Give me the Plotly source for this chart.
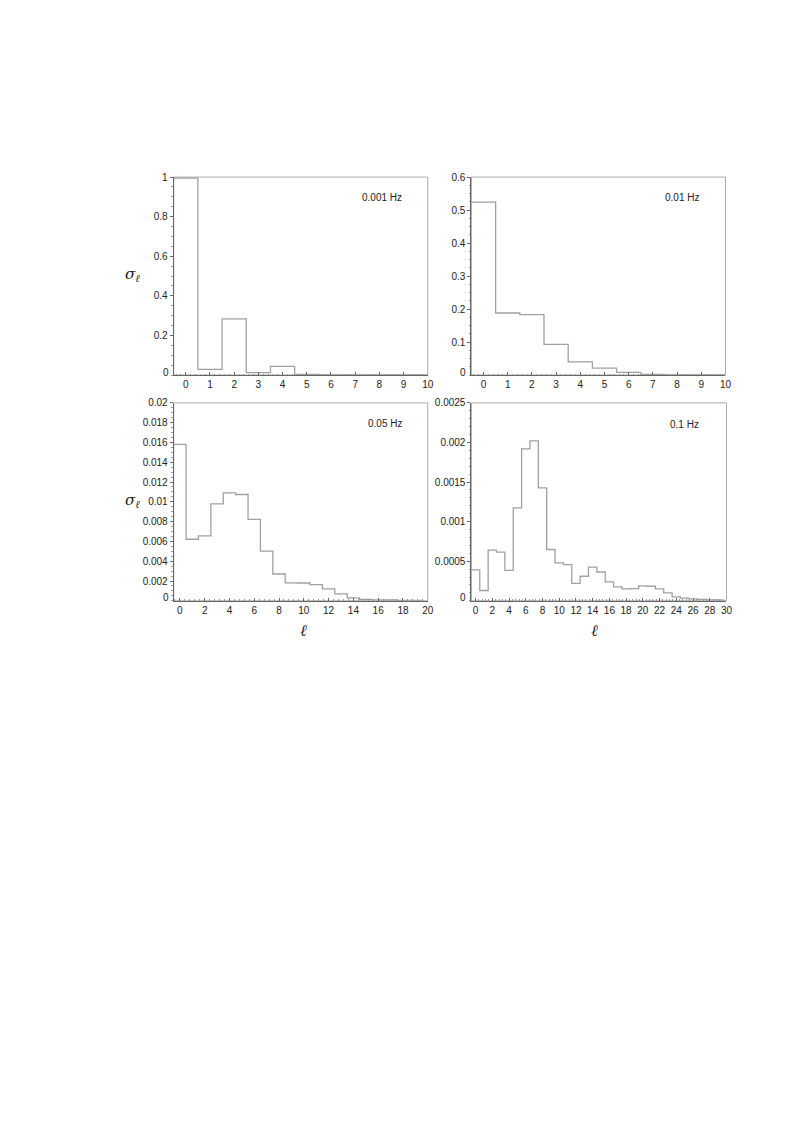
import plotly.graph_objects as go

# ---- data ----
ell_a = list(range(0, 11))
sigma_a = [0.995, 0.0285, 0.2836, 0.0117, 0.0436, 0.0034, 0.0006, 0.0003, 0.0002, 0.0001, 0.0001]

ell_b = list(range(0, 11))
sigma_b = [0.524, 0.188, 0.183, 0.0926, 0.040, 0.021, 0.008, 0.002, 0.0006, 0.0003, 0.0002]

ell_c = list(range(0, 20))
sigma_c = [0.0158, 0.00622, 0.00656, 0.0098, 0.0109, 0.01074, 0.00823, 0.00502, 0.00271, 0.00181,
           0.0018, 0.00164, 0.0012, 0.0007, 0.0003, 0.00013, 0.0001, 0.00008, 0.00005, 0.00003]

ell_d = list(range(0, 30))
sigma_d = [0.00039, 0.00013, 0.00064, 0.000615, 0.000385, 0.001175, 0.00192, 0.00202, 0.001426, 0.000648,
           0.00048, 0.000456, 0.00022, 0.00031, 0.000426, 0.000364, 0.000238, 0.000176, 0.00015, 0.000155,
           0.000188, 0.000184, 0.00015, 0.0001, 0.00005, 0.000033, 0.000025, 0.000017, 0.000013, 0.00001]

freq_labels = ["0.001 Hz", "0.01 Hz", "0.05 Hz", "0.1 Hz"]

xt_a = list(range(0, 11)); xtl_a = [str(v) for v in xt_a]
xt_c = list(range(0, 21, 2)); xtl_c = [str(v) for v in xt_c]
xt_d = list(range(0, 31, 2)); xtl_d = [str(v) for v in xt_d]

yt_a = [0.2, 0.4, 0.6, 0.8, 1.0]; ytl_a = ["0.2", "0.4", "0.6", "0.8", "1"]
yt_b = [0.1, 0.2, 0.3, 0.4, 0.5, 0.6]; ytl_b = ["0.1", "0.2", "0.3", "0.4", "0.5", "0.6"]
yt_c = [0.002, 0.004, 0.006, 0.008, 0.01, 0.012, 0.014, 0.016, 0.018, 0.02]
ytl_c = ["0.002", "0.004", "0.006", "0.008", "0.01", "0.012", "0.014", "0.016", "0.018", "0.02"]
yt_d = [0.0005, 0.001, 0.0015, 0.002, 0.0025]; ytl_d = ["0.0005", "0.001", "0.0015", "0.002", "0.0025"]

W, H = 795, 1124

def dom_x(a, b):
    return [a / W, b / W]

def dom_y(top, bot):
    return [1 - bot / H, 1 - top / H]

panels = [
    dict(ell=ell_a, s=sigma_a, xr=[-0.5, 10], yr=[0, 1.0], xt=xt_a, xtl=xtl_a, yt=yt_a, ytl=ytl_a,
         xd=dom_x(175, 431), yd=dom_y(172, 371), xminor=0.2, yminor=0.05, lab=freq_labels[0], lx=385, ly=193),
    dict(ell=ell_b, s=sigma_b, xr=[-0.5, 10], yr=[0, 0.6], xt=xt_a, xtl=xtl_a, yt=yt_b, ytl=ytl_b,
         xd=dom_x(475, 731), yd=dom_y(172, 371), xminor=0.2, yminor=0.025, lab=freq_labels[1], lx=687, ly=193),
    dict(ell=ell_c, s=sigma_c, xr=[-0.5, 20], yr=[0, 0.02], xt=xt_c, xtl=xtl_c, yt=yt_c, ytl=ytl_c,
         xd=dom_x(175, 431), yd=dom_y(399, 598), xminor=0.4, yminor=0.0005, lab=freq_labels[2], lx=388, ly=420),
    dict(ell=ell_d, s=sigma_d, xr=[-0.5, 30], yr=[0, 0.0025], xt=xt_d, xtl=xtl_d, yt=yt_d, ytl=ytl_d,
         xd=dom_x(475, 732), yd=dom_y(399, 598), xminor=0.4, yminor=0.0001, lab=freq_labels[3], lx=690, ly=421),
]

fig = go.Figure()
tickfont = dict(family="Liberation Sans, Arial, sans-serif", size=10, color="#222")
AX = "#666666"
FRAME = "#aaaaaa"
LINE = "#a0a0a0"

for i, p in enumerate(panels, start=1):
    sfx = "" if i == 1 else str(i)
    xa, ya = "x" + sfx, "y" + sfx
    edges = [v - 0.5 for v in p["ell"]] + [p["ell"][-1] + 0.5]
    ys = list(p["s"]) + [p["s"][-1]]
    fig.add_trace(go.Scatter(x=edges, y=ys, mode="lines", line=dict(shape="hv", color=LINE, width=1.3),
                             xaxis=xa, yaxis=ya, showlegend=False, hoverinfo="skip"))
    fig.layout["xaxis" + sfx] = dict(
        domain=p["xd"], anchor=ya, range=p["xr"], tickvals=p["xt"], ticktext=p["xtl"],
        showgrid=False, zeroline=False, showline=True, linecolor=AX, linewidth=1,
        ticks="inside", ticklen=3, tickcolor=AX, tickfont=tickfont,
        minor=dict(ticks="inside", ticklen=1.5, tickcolor="#999", dtick=p["xminor"], tick0=0, showgrid=False),
    )
    fig.layout["yaxis" + sfx] = dict(
        domain=p["yd"], anchor=xa, range=p["yr"], tickvals=p["yt"], ticktext=p["ytl"],
        showgrid=False, zeroline=False, showline=True, linecolor=AX, linewidth=1,
        ticks="outside", ticklen=3, tickcolor=AX, tickfont=tickfont,
        minor=dict(ticks="outside", ticklen=1.5, tickcolor="#999", dtick=p["yminor"], tick0=0, showgrid=False),
    )
    fig.add_shape(type="rect", xref=xa + " domain", yref=ya + " domain", x0=0, x1=1, y0=0, y1=1,
                  line=dict(color=FRAME, width=1), layer="below")
    fig.add_annotation(xref=xa + " domain", yref=ya + " domain", x=0, y=0, text="0",
                       xanchor="right", yanchor="middle", showarrow=False, xshift=-3, yshift=3,
                       font=tickfont)
    fig.add_annotation(xref="paper", yref="paper", x=p["lx"] / W, y=1 - p["ly"] / H, text=p["lab"],
                       showarrow=False, xanchor="center", yanchor="middle", font=tickfont)

serif = "DejaVu Serif, Liberation Serif, serif"
for yy in [270, 497]:
    fig.add_annotation(xref="paper", yref="paper", x=142 / W, y=1 - yy / H,
                       text="<i>σ</i><sub><i>ℓ</i></sub>", showarrow=False,
                       xanchor="right", yanchor="middle", borderpad=0,
                       font=dict(family=serif, size=15, color="#222"))
for xx in [306, 605]:
    fig.add_annotation(xref="paper", yref="paper", x=xx / W, y=1 - 628 / H,
                       text="<i>ℓ</i>", showarrow=False,
                       font=dict(family=serif, size=16, color="#222"))

fig.update_layout(width=W, height=H, margin=dict(l=0, r=0, t=0, b=0),
                  paper_bgcolor="white", plot_bgcolor="white")
fig.write_html("out.html", config={"displayModeBar": False},
               post_script="document.body.style.margin='0';document.body.style.padding='0';document.documentElement.style.overflow='hidden';")
